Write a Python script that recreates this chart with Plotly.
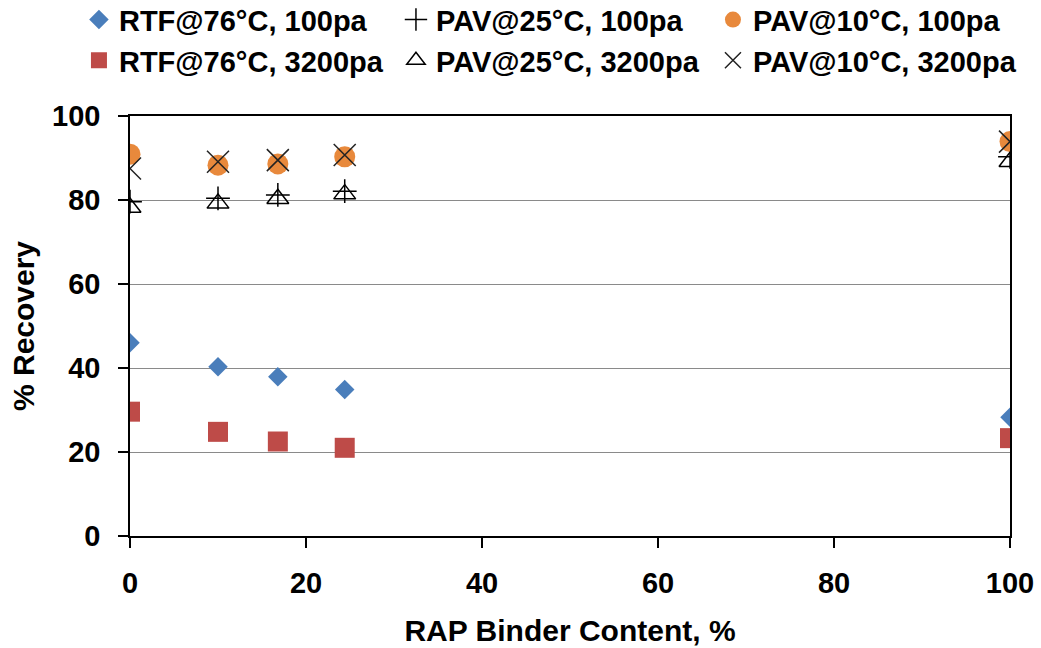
import plotly.graph_objects as go

# Data
rap_content = [0, 10, 16.8, 24.4, 100]
rtf76_100 = [46.0, 40.3, 37.9, 34.9, 28.3]
pav25_100 = [79.6, 80.4, 81.2, 82.1, 90.3]
pav10_100 = [90.9, 88.3, 88.6, 90.3, 93.9]
rtf76_3200 = [29.6, 24.8, 22.5, 21.0, 23.3]
pav25_3200 = [78.2, 79.2, 80.3, 81.4, 89.1]
pav10_3200 = [87.5, 89.1, 89.5, 90.7, 93.9]

x_ticks = [0, 20, 40, 60, 80, 100]
y_ticks = [0, 20, 40, 60, 80, 100]

FONT = "Liberation Sans, Arial, sans-serif"

series = [
    ("RTF@76°C, 100pa", rtf76_100, dict(symbol="diamond", size=15, color="#4A7EBB")),
    ("PAV@25°C, 100pa", pav25_100, dict(symbol="cross-thin", size=17, color="black",
                                        line=dict(color="black", width=1.5))),
    ("PAV@10°C, 100pa", pav10_100, dict(symbol="circle", size=21, color="#E8893C")),
    ("RTF@76°C, 3200pa", rtf76_3200, dict(symbol="square", size=20, color="#BE4B48")),
    ("PAV@25°C, 3200pa", pav25_3200, dict(symbol="triangle-up-open", size=19, color="black",
                                          line=dict(color="black", width=1.5))),
    ("PAV@10°C, 3200pa", pav10_3200, dict(symbol="x-thin", size=22, color="black",
                                          line=dict(color="#222222", width=1.5))),
]

fig = go.Figure()
for name, vals, mk in series:
    fig.add_trace(go.Scatter(x=rap_content, y=vals, mode="markers", name=name, marker=mk))

fig.update_layout(
    width=1041, height=648,
    margin=dict(l=130, r=31, t=116, b=112, autoexpand=False),
    paper_bgcolor="white", plot_bgcolor="white",
    font=dict(family=FONT, color="black"),
    legend=dict(
        orientation="h", x=-0.058, xanchor="left", y=1.29, yanchor="top",
        entrywidth=272, entrywidthmode="pixels",
        font=dict(size=29, family=FONT, color="black", weight="bold"),
        itemsizing="trace", traceorder="normal",
        bgcolor="rgba(0,0,0,0)",
    ),
    xaxis=dict(
        range=[0, 100], tickvals=x_ticks, showgrid=False, zeroline=False,
        showline=True, linecolor="black", linewidth=1.5, mirror=True,
        ticks="outside", ticklen=10, tickcolor="black", tickwidth=1.5,
        ticklabelstandoff=10, automargin=False,
        tickfont=dict(size=29, family=FONT, weight="bold"),
        title=dict(text="RAP Binder Content, %", standoff=22,
                   font=dict(size=30, family=FONT, weight="bold")),
    ),
    yaxis=dict(
        range=[0, 100], tickvals=y_ticks, showgrid=True, gridcolor="#8A8A8A", gridwidth=1,
        zeroline=False, automargin=False,
        showline=True, linecolor="black", linewidth=1.5, mirror=True,
        ticks="outside", ticklen=10, tickcolor="black", tickwidth=1.5,
        ticklabelstandoff=12,
        tickfont=dict(size=29, family=FONT, weight="bold"),
        title=dict(text="% Recovery", standoff=9,
                   font=dict(size=30, family=FONT, weight="bold")),
    ),
)

fig.write_html("out.html", config={"displayModeBar": False},
               post_script="document.body.style.margin='0';")
